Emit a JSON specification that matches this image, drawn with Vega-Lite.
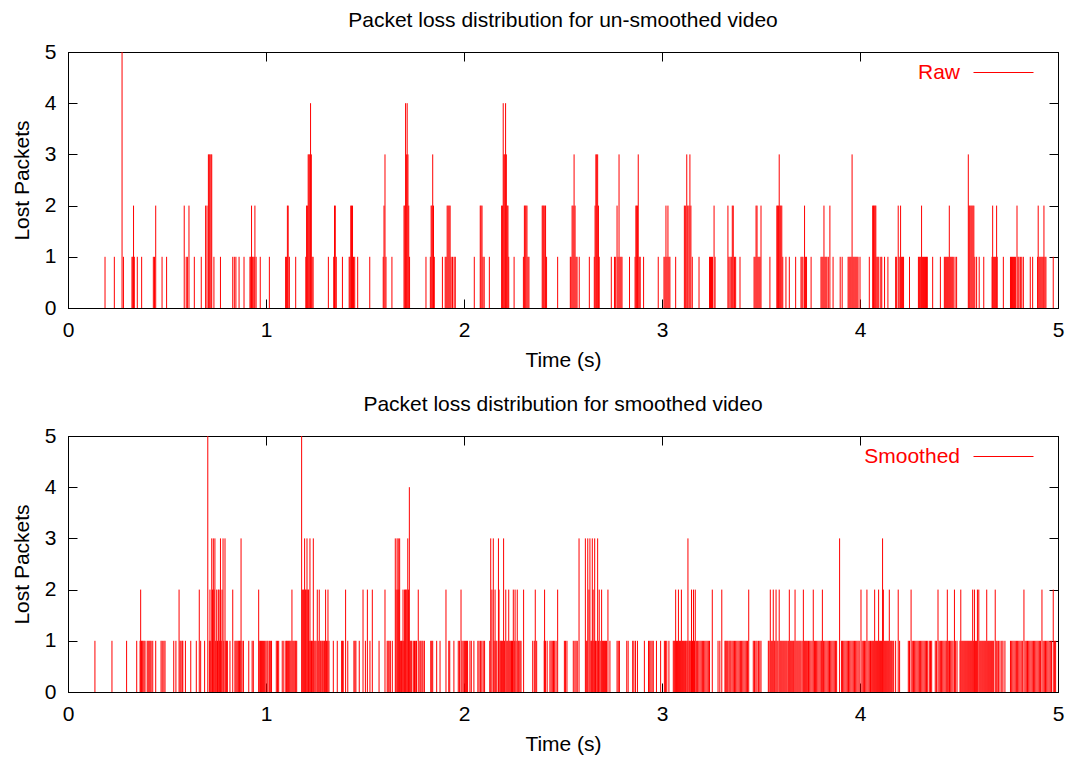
{
"$schema":"https://vega.github.io/schema/vega-lite/v6.json",
"background":"white",
"padding":{"left":10,"top":9,"right":0,"bottom":5},
"config":{"font":"Liberation Sans","view":{"stroke":"black","strokeWidth":1},
"axis":{"grid":false,"domainColor":"black","tickColor":"black","labelColor":"black","titleColor":"black","labelFontSize":21,"titleFontSize":21,"titleFontWeight":"normal","labelFont":"Liberation Sans","titleFont":"Liberation Sans","tickSize":-9,"labelFlush":false},
"title":{"fontSize":21,"fontWeight":"normal","font":"Liberation Sans","color":"black","offset":10}},
"datasets":{
"raw":[{"t":0.187,"v":1},{"t":0.234,"v":1},{"t":0.273,"v":5},{"t":0.28,"v":1},{"t":0.323,"v":1},{"t":0.327,"v":1},{"t":0.331,"v":2},{"t":0.335,"v":1},{"t":0.35,"v":1},{"t":0.372,"v":1},{"t":0.431,"v":1},{"t":0.437,"v":1},{"t":0.443,"v":2},{"t":0.475,"v":1},{"t":0.498,"v":1},{"t":0.587,"v":2},{"t":0.597,"v":1},{"t":0.603,"v":1},{"t":0.611,"v":2},{"t":0.638,"v":1},{"t":0.673,"v":1},{"t":0.695,"v":2},{"t":0.702,"v":2},{"t":0.709,"v":3},{"t":0.713,"v":3},{"t":0.717,"v":3},{"t":0.722,"v":3},{"t":0.726,"v":3},{"t":0.737,"v":1},{"t":0.77,"v":1},{"t":0.832,"v":1},{"t":0.84,"v":1},{"t":0.848,"v":1},{"t":0.864,"v":1},{"t":0.889,"v":1},{"t":0.919,"v":1},{"t":0.923,"v":1},{"t":0.927,"v":2},{"t":0.931,"v":1},{"t":0.935,"v":1},{"t":0.94,"v":1},{"t":0.944,"v":2},{"t":0.95,"v":1},{"t":0.971,"v":1},{"t":1.017,"v":1},{"t":1.099,"v":1},{"t":1.104,"v":1},{"t":1.108,"v":2},{"t":1.112,"v":2},{"t":1.118,"v":1},{"t":1.15,"v":1},{"t":1.201,"v":1},{"t":1.205,"v":2},{"t":1.209,"v":2},{"t":1.213,"v":3},{"t":1.217,"v":3},{"t":1.221,"v":3},{"t":1.225,"v":4},{"t":1.229,"v":3},{"t":1.233,"v":1},{"t":1.238,"v":1},{"t":1.315,"v":1},{"t":1.342,"v":1},{"t":1.346,"v":2},{"t":1.35,"v":2},{"t":1.355,"v":1},{"t":1.386,"v":1},{"t":1.42,"v":1},{"t":1.424,"v":1},{"t":1.428,"v":2},{"t":1.432,"v":2},{"t":1.437,"v":2},{"t":1.442,"v":1},{"t":1.448,"v":1},{"t":1.463,"v":1},{"t":1.524,"v":1},{"t":1.592,"v":1},{"t":1.596,"v":2},{"t":1.601,"v":3},{"t":1.606,"v":1},{"t":1.636,"v":1},{"t":1.697,"v":2},{"t":1.701,"v":2},{"t":1.705,"v":4},{"t":1.709,"v":3},{"t":1.713,"v":4},{"t":1.717,"v":3},{"t":1.721,"v":2},{"t":1.725,"v":1},{"t":1.808,"v":1},{"t":1.83,"v":1},{"t":1.834,"v":2},{"t":1.838,"v":2},{"t":1.842,"v":3},{"t":1.846,"v":2},{"t":1.85,"v":1},{"t":1.891,"v":1},{"t":1.905,"v":1},{"t":1.91,"v":1},{"t":1.915,"v":2},{"t":1.92,"v":2},{"t":1.925,"v":2},{"t":1.93,"v":2},{"t":1.935,"v":1},{"t":1.942,"v":1},{"t":1.95,"v":1},{"t":1.956,"v":1},{"t":2.052,"v":1},{"t":2.082,"v":2},{"t":2.086,"v":2},{"t":2.091,"v":2},{"t":2.096,"v":1},{"t":2.102,"v":1},{"t":2.128,"v":1},{"t":2.19,"v":2},{"t":2.194,"v":2},{"t":2.198,"v":4},{"t":2.202,"v":3},{"t":2.206,"v":3},{"t":2.21,"v":4},{"t":2.214,"v":3},{"t":2.218,"v":2},{"t":2.222,"v":2},{"t":2.226,"v":1},{"t":2.253,"v":1},{"t":2.3,"v":1},{"t":2.305,"v":2},{"t":2.309,"v":2},{"t":2.313,"v":2},{"t":2.318,"v":2},{"t":2.323,"v":1},{"t":2.328,"v":1},{"t":2.395,"v":2},{"t":2.399,"v":2},{"t":2.403,"v":2},{"t":2.408,"v":2},{"t":2.412,"v":2},{"t":2.417,"v":1},{"t":2.473,"v":1},{"t":2.537,"v":1},{"t":2.541,"v":1},{"t":2.546,"v":2},{"t":2.551,"v":2},{"t":2.556,"v":3},{"t":2.561,"v":2},{"t":2.566,"v":1},{"t":2.571,"v":1},{"t":2.582,"v":1},{"t":2.633,"v":1},{"t":2.658,"v":1},{"t":2.662,"v":2},{"t":2.666,"v":3},{"t":2.67,"v":3},{"t":2.675,"v":3},{"t":2.679,"v":2},{"t":2.683,"v":1},{"t":2.744,"v":1},{"t":2.76,"v":1},{"t":2.766,"v":1},{"t":2.773,"v":2},{"t":2.778,"v":1},{"t":2.783,"v":3},{"t":2.788,"v":1},{"t":2.793,"v":1},{"t":2.798,"v":1},{"t":2.836,"v":1},{"t":2.864,"v":1},{"t":2.868,"v":2},{"t":2.872,"v":2},{"t":2.876,"v":2},{"t":2.88,"v":3},{"t":2.885,"v":1},{"t":2.89,"v":1},{"t":2.907,"v":1},{"t":2.981,"v":1},{"t":3.01,"v":1},{"t":3.015,"v":1},{"t":3.02,"v":2},{"t":3.025,"v":1},{"t":3.03,"v":2},{"t":3.035,"v":1},{"t":3.04,"v":1},{"t":3.069,"v":1},{"t":3.113,"v":2},{"t":3.118,"v":2},{"t":3.125,"v":3},{"t":3.13,"v":2},{"t":3.136,"v":2},{"t":3.141,"v":3},{"t":3.146,"v":2},{"t":3.153,"v":1},{"t":3.187,"v":1},{"t":3.24,"v":1},{"t":3.245,"v":1},{"t":3.25,"v":1},{"t":3.255,"v":1},{"t":3.263,"v":2},{"t":3.268,"v":1},{"t":3.333,"v":2},{"t":3.338,"v":1},{"t":3.344,"v":1},{"t":3.35,"v":1},{"t":3.355,"v":2},{"t":3.36,"v":2},{"t":3.366,"v":1},{"t":3.372,"v":1},{"t":3.394,"v":1},{"t":3.465,"v":1},{"t":3.47,"v":1},{"t":3.475,"v":2},{"t":3.48,"v":2},{"t":3.485,"v":1},{"t":3.49,"v":1},{"t":3.495,"v":1},{"t":3.5,"v":2},{"t":3.545,"v":1},{"t":3.58,"v":2},{"t":3.584,"v":2},{"t":3.588,"v":2},{"t":3.592,"v":3},{"t":3.596,"v":2},{"t":3.6,"v":2},{"t":3.605,"v":2},{"t":3.61,"v":1},{"t":3.626,"v":1},{"t":3.643,"v":1},{"t":3.675,"v":1},{"t":3.702,"v":1},{"t":3.707,"v":1},{"t":3.712,"v":1},{"t":3.72,"v":2},{"t":3.725,"v":1},{"t":3.73,"v":1},{"t":3.753,"v":1},{"t":3.803,"v":1},{"t":3.808,"v":1},{"t":3.813,"v":1},{"t":3.818,"v":2},{"t":3.823,"v":1},{"t":3.828,"v":1},{"t":3.833,"v":1},{"t":3.84,"v":1},{"t":3.848,"v":2},{"t":3.864,"v":1},{"t":3.9,"v":1},{"t":3.91,"v":1},{"t":3.94,"v":1},{"t":3.945,"v":1},{"t":3.95,"v":1},{"t":3.955,"v":1},{"t":3.96,"v":3},{"t":3.965,"v":1},{"t":3.97,"v":1},{"t":3.975,"v":1},{"t":3.98,"v":1},{"t":3.985,"v":1},{"t":3.99,"v":1},{"t":4.0,"v":1},{"t":4.047,"v":1},{"t":4.064,"v":2},{"t":4.068,"v":2},{"t":4.072,"v":2},{"t":4.076,"v":2},{"t":4.08,"v":2},{"t":4.085,"v":1},{"t":4.09,"v":1},{"t":4.095,"v":1},{"t":4.105,"v":1},{"t":4.11,"v":1},{"t":4.124,"v":1},{"t":4.141,"v":1},{"t":4.18,"v":1},{"t":4.185,"v":1},{"t":4.193,"v":2},{"t":4.198,"v":1},{"t":4.205,"v":2},{"t":4.21,"v":1},{"t":4.215,"v":1},{"t":4.22,"v":1},{"t":4.25,"v":1},{"t":4.295,"v":1},{"t":4.3,"v":1},{"t":4.305,"v":1},{"t":4.311,"v":2},{"t":4.316,"v":1},{"t":4.321,"v":1},{"t":4.326,"v":1},{"t":4.331,"v":1},{"t":4.336,"v":1},{"t":4.34,"v":1},{"t":4.367,"v":1},{"t":4.406,"v":1},{"t":4.426,"v":1},{"t":4.431,"v":1},{"t":4.436,"v":1},{"t":4.441,"v":1},{"t":4.446,"v":1},{"t":4.451,"v":2},{"t":4.456,"v":1},{"t":4.461,"v":1},{"t":4.466,"v":1},{"t":4.471,"v":1},{"t":4.48,"v":1},{"t":4.488,"v":1},{"t":4.547,"v":3},{"t":4.551,"v":2},{"t":4.555,"v":2},{"t":4.56,"v":2},{"t":4.565,"v":2},{"t":4.57,"v":2},{"t":4.575,"v":2},{"t":4.58,"v":1},{"t":4.589,"v":1},{"t":4.602,"v":1},{"t":4.625,"v":1},{"t":4.667,"v":1},{"t":4.67,"v":2},{"t":4.675,"v":1},{"t":4.68,"v":1},{"t":4.685,"v":1},{"t":4.69,"v":2},{"t":4.693,"v":1},{"t":4.724,"v":1},{"t":4.76,"v":1},{"t":4.765,"v":1},{"t":4.77,"v":1},{"t":4.775,"v":1},{"t":4.78,"v":1},{"t":4.785,"v":1},{"t":4.793,"v":2},{"t":4.798,"v":1},{"t":4.803,"v":1},{"t":4.81,"v":1},{"t":4.817,"v":1},{"t":4.825,"v":1},{"t":4.86,"v":1},{"t":4.872,"v":1},{"t":4.897,"v":1},{"t":4.9,"v":2},{"t":4.905,"v":1},{"t":4.91,"v":1},{"t":4.915,"v":1},{"t":4.92,"v":1},{"t":4.925,"v":1},{"t":4.929,"v":2},{"t":4.934,"v":1},{"t":4.939,"v":1},{"t":4.976,"v":1}],
"smoothed":[{"t":0.136,"v":1},{"t":0.222,"v":1},{"t":0.296,"v":1},{"t":0.347,"v":1},{"t":0.364,"v":1},{"t":0.367,"v":2},{"t":0.371,"v":1},{"t":0.375,"v":1},{"t":0.379,"v":1},{"t":0.384,"v":1},{"t":0.389,"v":1},{"t":0.4,"v":1},{"t":0.405,"v":1},{"t":0.41,"v":1},{"t":0.415,"v":1},{"t":0.42,"v":1},{"t":0.428,"v":1},{"t":0.443,"v":1},{"t":0.47,"v":1},{"t":0.476,"v":1},{"t":0.484,"v":1},{"t":0.49,"v":1},{"t":0.534,"v":1},{"t":0.545,"v":1},{"t":0.561,"v":2},{"t":0.566,"v":1},{"t":0.571,"v":1},{"t":0.577,"v":1},{"t":0.58,"v":1},{"t":0.593,"v":1},{"t":0.62,"v":1},{"t":0.648,"v":1},{"t":0.663,"v":2},{"t":0.67,"v":1},{"t":0.69,"v":1},{"t":0.706,"v":5},{"t":0.714,"v":1},{"t":0.717,"v":2},{"t":0.721,"v":1},{"t":0.726,"v":3},{"t":0.73,"v":2},{"t":0.734,"v":3},{"t":0.738,"v":2},{"t":0.742,"v":3},{"t":0.746,"v":1},{"t":0.751,"v":2},{"t":0.755,"v":1},{"t":0.759,"v":2},{"t":0.763,"v":2},{"t":0.766,"v":1},{"t":0.77,"v":3},{"t":0.774,"v":1},{"t":0.778,"v":2},{"t":0.783,"v":3},{"t":0.787,"v":1},{"t":0.793,"v":3},{"t":0.797,"v":1},{"t":0.801,"v":1},{"t":0.805,"v":1},{"t":0.818,"v":1},{"t":0.832,"v":2},{"t":0.843,"v":1},{"t":0.848,"v":1},{"t":0.853,"v":1},{"t":0.858,"v":1},{"t":0.862,"v":1},{"t":0.866,"v":1},{"t":0.87,"v":1},{"t":0.874,"v":3},{"t":0.879,"v":1},{"t":0.886,"v":1},{"t":0.913,"v":1},{"t":0.93,"v":1},{"t":0.936,"v":1},{"t":0.963,"v":2},{"t":0.966,"v":1},{"t":0.972,"v":1},{"t":0.977,"v":1},{"t":0.982,"v":1},{"t":0.987,"v":1},{"t":0.993,"v":1},{"t":0.999,"v":1},{"t":1.005,"v":1},{"t":1.01,"v":1},{"t":1.017,"v":1},{"t":1.022,"v":1},{"t":1.028,"v":1},{"t":1.052,"v":1},{"t":1.058,"v":1},{"t":1.064,"v":1},{"t":1.082,"v":1},{"t":1.09,"v":1},{"t":1.1,"v":1},{"t":1.104,"v":1},{"t":1.108,"v":1},{"t":1.113,"v":1},{"t":1.117,"v":1},{"t":1.121,"v":1},{"t":1.126,"v":1},{"t":1.131,"v":2},{"t":1.136,"v":1},{"t":1.141,"v":1},{"t":1.146,"v":1},{"t":1.15,"v":1},{"t":1.155,"v":1},{"t":1.18,"v":5},{"t":1.185,"v":2},{"t":1.19,"v":2},{"t":1.195,"v":3},{"t":1.199,"v":2},{"t":1.203,"v":2},{"t":1.207,"v":3},{"t":1.211,"v":2},{"t":1.215,"v":2},{"t":1.218,"v":1},{"t":1.222,"v":3},{"t":1.226,"v":1},{"t":1.23,"v":1},{"t":1.234,"v":1},{"t":1.239,"v":3},{"t":1.243,"v":1},{"t":1.248,"v":1},{"t":1.253,"v":1},{"t":1.259,"v":2},{"t":1.264,"v":1},{"t":1.269,"v":2},{"t":1.274,"v":1},{"t":1.278,"v":1},{"t":1.283,"v":1},{"t":1.287,"v":1},{"t":1.292,"v":1},{"t":1.296,"v":1},{"t":1.301,"v":2},{"t":1.306,"v":1},{"t":1.309,"v":1},{"t":1.313,"v":2},{"t":1.318,"v":1},{"t":1.34,"v":1},{"t":1.36,"v":1},{"t":1.382,"v":1},{"t":1.386,"v":1},{"t":1.39,"v":1},{"t":1.402,"v":2},{"t":1.413,"v":1},{"t":1.444,"v":1},{"t":1.449,"v":1},{"t":1.454,"v":1},{"t":1.471,"v":1},{"t":1.49,"v":2},{"t":1.502,"v":1},{"t":1.512,"v":2},{"t":1.525,"v":1},{"t":1.537,"v":2},{"t":1.571,"v":1},{"t":1.601,"v":2},{"t":1.612,"v":1},{"t":1.617,"v":1},{"t":1.622,"v":1},{"t":1.628,"v":1},{"t":1.638,"v":1},{"t":1.653,"v":3},{"t":1.657,"v":2},{"t":1.662,"v":3},{"t":1.666,"v":2},{"t":1.668,"v":3},{"t":1.672,"v":2},{"t":1.675,"v":3},{"t":1.68,"v":1},{"t":1.684,"v":1},{"t":1.688,"v":1},{"t":1.692,"v":2},{"t":1.696,"v":1},{"t":1.7,"v":2},{"t":1.704,"v":2},{"t":1.708,"v":2},{"t":1.712,"v":2},{"t":1.716,"v":3},{"t":1.72,"v":2},{"t":1.724,"v":4},{"t":1.728,"v":1},{"t":1.732,"v":1},{"t":1.736,"v":1},{"t":1.744,"v":1},{"t":1.75,"v":1},{"t":1.756,"v":1},{"t":1.76,"v":1},{"t":1.769,"v":2},{"t":1.777,"v":1},{"t":1.782,"v":1},{"t":1.788,"v":1},{"t":1.793,"v":1},{"t":1.8,"v":1},{"t":1.832,"v":1},{"t":1.837,"v":1},{"t":1.842,"v":1},{"t":1.862,"v":1},{"t":1.879,"v":1},{"t":1.909,"v":2},{"t":1.923,"v":1},{"t":1.928,"v":1},{"t":1.949,"v":1},{"t":1.971,"v":1},{"t":1.977,"v":1},{"t":1.985,"v":2},{"t":1.99,"v":1},{"t":1.996,"v":1},{"t":2.002,"v":1},{"t":2.008,"v":1},{"t":2.013,"v":1},{"t":2.018,"v":1},{"t":2.03,"v":1},{"t":2.037,"v":1},{"t":2.05,"v":1},{"t":2.07,"v":1},{"t":2.076,"v":1},{"t":2.083,"v":1},{"t":2.09,"v":1},{"t":2.097,"v":1},{"t":2.104,"v":1},{"t":2.13,"v":1},{"t":2.135,"v":3},{"t":2.141,"v":2},{"t":2.148,"v":3},{"t":2.152,"v":1},{"t":2.157,"v":2},{"t":2.161,"v":1},{"t":2.166,"v":1},{"t":2.174,"v":3},{"t":2.177,"v":2},{"t":2.182,"v":1},{"t":2.186,"v":1},{"t":2.19,"v":1},{"t":2.195,"v":1},{"t":2.2,"v":3},{"t":2.205,"v":1},{"t":2.211,"v":2},{"t":2.216,"v":1},{"t":2.221,"v":1},{"t":2.226,"v":2},{"t":2.231,"v":1},{"t":2.236,"v":1},{"t":2.24,"v":1},{"t":2.245,"v":1},{"t":2.249,"v":2},{"t":2.254,"v":1},{"t":2.258,"v":2},{"t":2.263,"v":1},{"t":2.269,"v":2},{"t":2.274,"v":1},{"t":2.278,"v":1},{"t":2.283,"v":1},{"t":2.288,"v":1},{"t":2.301,"v":2},{"t":2.347,"v":1},{"t":2.355,"v":1},{"t":2.36,"v":2},{"t":2.367,"v":1},{"t":2.405,"v":1},{"t":2.407,"v":2},{"t":2.412,"v":1},{"t":2.42,"v":1},{"t":2.434,"v":1},{"t":2.44,"v":1},{"t":2.446,"v":1},{"t":2.452,"v":1},{"t":2.458,"v":1},{"t":2.465,"v":1},{"t":2.473,"v":2},{"t":2.507,"v":1},{"t":2.513,"v":1},{"t":2.52,"v":1},{"t":2.552,"v":1},{"t":2.56,"v":1},{"t":2.566,"v":1},{"t":2.572,"v":1},{"t":2.581,"v":3},{"t":2.613,"v":3},{"t":2.617,"v":1},{"t":2.621,"v":1},{"t":2.625,"v":3},{"t":2.631,"v":2},{"t":2.636,"v":3},{"t":2.641,"v":1},{"t":2.645,"v":1},{"t":2.648,"v":3},{"t":2.652,"v":2},{"t":2.656,"v":1},{"t":2.66,"v":3},{"t":2.664,"v":1},{"t":2.668,"v":1},{"t":2.675,"v":3},{"t":2.679,"v":1},{"t":2.683,"v":2},{"t":2.688,"v":1},{"t":2.695,"v":2},{"t":2.7,"v":1},{"t":2.705,"v":1},{"t":2.71,"v":1},{"t":2.715,"v":1},{"t":2.72,"v":1},{"t":2.727,"v":2},{"t":2.737,"v":1},{"t":2.773,"v":1},{"t":2.779,"v":1},{"t":2.785,"v":1},{"t":2.822,"v":1},{"t":2.829,"v":1},{"t":2.852,"v":1},{"t":2.858,"v":1},{"t":2.866,"v":1},{"t":2.876,"v":1},{"t":2.911,"v":1},{"t":2.932,"v":1},{"t":2.938,"v":1},{"t":2.944,"v":1},{"t":2.95,"v":1},{"t":2.956,"v":1},{"t":2.972,"v":1},{"t":2.993,"v":1},{"t":3.012,"v":1},{"t":3.018,"v":1},{"t":3.024,"v":1},{"t":3.035,"v":1},{"t":3.057,"v":1},{"t":3.062,"v":1},{"t":3.066,"v":1},{"t":3.069,"v":2},{"t":3.073,"v":1},{"t":3.078,"v":1},{"t":3.083,"v":2},{"t":3.088,"v":1},{"t":3.093,"v":1},{"t":3.098,"v":2},{"t":3.103,"v":1},{"t":3.108,"v":1},{"t":3.113,"v":1},{"t":3.118,"v":1},{"t":3.122,"v":1},{"t":3.127,"v":1},{"t":3.131,"v":3},{"t":3.136,"v":1},{"t":3.14,"v":1},{"t":3.145,"v":1},{"t":3.149,"v":2},{"t":3.154,"v":1},{"t":3.159,"v":2},{"t":3.164,"v":1},{"t":3.168,"v":2},{"t":3.175,"v":1},{"t":3.18,"v":1},{"t":3.186,"v":1},{"t":3.192,"v":1},{"t":3.198,"v":1},{"t":3.204,"v":1},{"t":3.21,"v":1},{"t":3.216,"v":1},{"t":3.222,"v":1},{"t":3.228,"v":1},{"t":3.234,"v":1},{"t":3.24,"v":1},{"t":3.254,"v":2},{"t":3.283,"v":1},{"t":3.292,"v":1},{"t":3.302,"v":2},{"t":3.318,"v":1},{"t":3.322,"v":1},{"t":3.327,"v":1},{"t":3.332,"v":1},{"t":3.338,"v":1},{"t":3.343,"v":1},{"t":3.348,"v":1},{"t":3.354,"v":1},{"t":3.36,"v":1},{"t":3.366,"v":1},{"t":3.372,"v":1},{"t":3.378,"v":1},{"t":3.384,"v":1},{"t":3.39,"v":1},{"t":3.396,"v":1},{"t":3.402,"v":1},{"t":3.408,"v":1},{"t":3.414,"v":1},{"t":3.42,"v":1},{"t":3.426,"v":1},{"t":3.432,"v":1},{"t":3.438,"v":2},{"t":3.461,"v":1},{"t":3.467,"v":1},{"t":3.474,"v":1},{"t":3.48,"v":1},{"t":3.487,"v":1},{"t":3.494,"v":1},{"t":3.5,"v":1},{"t":3.537,"v":1},{"t":3.541,"v":1},{"t":3.547,"v":2},{"t":3.552,"v":1},{"t":3.557,"v":1},{"t":3.562,"v":2},{"t":3.567,"v":1},{"t":3.571,"v":1},{"t":3.576,"v":2},{"t":3.581,"v":1},{"t":3.586,"v":1},{"t":3.592,"v":2},{"t":3.597,"v":1},{"t":3.602,"v":1},{"t":3.607,"v":1},{"t":3.612,"v":1},{"t":3.617,"v":1},{"t":3.622,"v":1},{"t":3.627,"v":1},{"t":3.632,"v":1},{"t":3.638,"v":1},{"t":3.643,"v":2},{"t":3.648,"v":1},{"t":3.653,"v":1},{"t":3.658,"v":1},{"t":3.663,"v":1},{"t":3.667,"v":1},{"t":3.672,"v":2},{"t":3.677,"v":1},{"t":3.682,"v":1},{"t":3.687,"v":1},{"t":3.692,"v":1},{"t":3.697,"v":1},{"t":3.702,"v":1},{"t":3.708,"v":1},{"t":3.714,"v":2},{"t":3.719,"v":1},{"t":3.724,"v":1},{"t":3.729,"v":1},{"t":3.734,"v":1},{"t":3.74,"v":1},{"t":3.746,"v":1},{"t":3.752,"v":1},{"t":3.758,"v":1},{"t":3.764,"v":2},{"t":3.77,"v":1},{"t":3.775,"v":1},{"t":3.781,"v":1},{"t":3.787,"v":1},{"t":3.793,"v":1},{"t":3.799,"v":1},{"t":3.805,"v":1},{"t":3.81,"v":2},{"t":3.816,"v":1},{"t":3.822,"v":1},{"t":3.828,"v":1},{"t":3.834,"v":1},{"t":3.84,"v":1},{"t":3.846,"v":1},{"t":3.852,"v":1},{"t":3.858,"v":1},{"t":3.864,"v":1},{"t":3.87,"v":1},{"t":3.876,"v":1},{"t":3.882,"v":1},{"t":3.897,"v":3},{"t":3.907,"v":1},{"t":3.912,"v":1},{"t":3.918,"v":1},{"t":3.924,"v":1},{"t":3.93,"v":1},{"t":3.936,"v":1},{"t":3.942,"v":1},{"t":3.948,"v":1},{"t":3.954,"v":1},{"t":3.96,"v":1},{"t":3.966,"v":1},{"t":3.972,"v":1},{"t":3.978,"v":1},{"t":3.984,"v":1},{"t":3.99,"v":1},{"t":3.996,"v":1},{"t":4.005,"v":2},{"t":4.011,"v":1},{"t":4.017,"v":1},{"t":4.023,"v":1},{"t":4.029,"v":1},{"t":4.035,"v":2},{"t":4.041,"v":1},{"t":4.047,"v":1},{"t":4.053,"v":1},{"t":4.059,"v":1},{"t":4.064,"v":1},{"t":4.069,"v":1},{"t":4.074,"v":2},{"t":4.079,"v":1},{"t":4.084,"v":1},{"t":4.089,"v":1},{"t":4.094,"v":2},{"t":4.099,"v":1},{"t":4.104,"v":1},{"t":4.109,"v":1},{"t":4.114,"v":3},{"t":4.118,"v":2},{"t":4.123,"v":1},{"t":4.128,"v":1},{"t":4.133,"v":1},{"t":4.138,"v":1},{"t":4.143,"v":1},{"t":4.148,"v":2},{"t":4.153,"v":1},{"t":4.158,"v":1},{"t":4.163,"v":1},{"t":4.17,"v":1},{"t":4.18,"v":1},{"t":4.193,"v":2},{"t":4.2,"v":1},{"t":4.244,"v":1},{"t":4.25,"v":1},{"t":4.258,"v":2},{"t":4.264,"v":1},{"t":4.27,"v":1},{"t":4.276,"v":1},{"t":4.282,"v":1},{"t":4.288,"v":1},{"t":4.294,"v":1},{"t":4.3,"v":1},{"t":4.306,"v":1},{"t":4.312,"v":1},{"t":4.318,"v":1},{"t":4.324,"v":1},{"t":4.33,"v":1},{"t":4.336,"v":1},{"t":4.342,"v":1},{"t":4.35,"v":1},{"t":4.356,"v":1},{"t":4.362,"v":1},{"t":4.38,"v":1},{"t":4.386,"v":1},{"t":4.394,"v":2},{"t":4.4,"v":1},{"t":4.406,"v":1},{"t":4.412,"v":1},{"t":4.418,"v":1},{"t":4.424,"v":1},{"t":4.43,"v":1},{"t":4.436,"v":1},{"t":4.441,"v":2},{"t":4.446,"v":1},{"t":4.452,"v":1},{"t":4.458,"v":1},{"t":4.464,"v":1},{"t":4.47,"v":1},{"t":4.477,"v":2},{"t":4.483,"v":1},{"t":4.49,"v":1},{"t":4.505,"v":1},{"t":4.509,"v":2},{"t":4.514,"v":1},{"t":4.519,"v":1},{"t":4.524,"v":1},{"t":4.529,"v":1},{"t":4.534,"v":1},{"t":4.539,"v":1},{"t":4.544,"v":1},{"t":4.549,"v":1},{"t":4.554,"v":1},{"t":4.559,"v":1},{"t":4.564,"v":1},{"t":4.569,"v":2},{"t":4.574,"v":1},{"t":4.578,"v":2},{"t":4.583,"v":1},{"t":4.588,"v":1},{"t":4.593,"v":2},{"t":4.6,"v":2},{"t":4.605,"v":1},{"t":4.61,"v":1},{"t":4.615,"v":1},{"t":4.62,"v":1},{"t":4.625,"v":1},{"t":4.63,"v":1},{"t":4.635,"v":1},{"t":4.64,"v":2},{"t":4.645,"v":1},{"t":4.65,"v":1},{"t":4.655,"v":1},{"t":4.66,"v":1},{"t":4.665,"v":1},{"t":4.67,"v":1},{"t":4.675,"v":1},{"t":4.683,"v":2},{"t":4.688,"v":1},{"t":4.693,"v":1},{"t":4.7,"v":1},{"t":4.707,"v":1},{"t":4.716,"v":1},{"t":4.722,"v":1},{"t":4.732,"v":1},{"t":4.76,"v":1},{"t":4.766,"v":1},{"t":4.772,"v":1},{"t":4.778,"v":1},{"t":4.784,"v":1},{"t":4.79,"v":1},{"t":4.796,"v":1},{"t":4.802,"v":1},{"t":4.808,"v":1},{"t":4.814,"v":1},{"t":4.82,"v":1},{"t":4.828,"v":2},{"t":4.834,"v":1},{"t":4.84,"v":1},{"t":4.846,"v":1},{"t":4.852,"v":1},{"t":4.858,"v":1},{"t":4.864,"v":1},{"t":4.87,"v":1},{"t":4.876,"v":1},{"t":4.882,"v":1},{"t":4.888,"v":1},{"t":4.894,"v":1},{"t":4.9,"v":1},{"t":4.906,"v":1},{"t":4.912,"v":1},{"t":4.919,"v":2},{"t":4.925,"v":1},{"t":4.931,"v":1},{"t":4.937,"v":1},{"t":4.943,"v":1},{"t":4.949,"v":1},{"t":4.955,"v":1},{"t":4.961,"v":1},{"t":4.967,"v":1},{"t":4.976,"v":2},{"t":4.982,"v":1},{"t":4.988,"v":1}]
},
"vconcat":[
{"title":"Packet loss distribution for un-smoothed video","width":990,"height":256,"data":{"name":"raw"},
"layer":[
{"mark":{"type":"rule","strokeWidth":1},
"encoding":{"x":{"field":"t","type":"quantitative","scale":{"domain":[0,5],"nice":false},"axis":{"title":"Time (s)","values":[0,1,2,3,4,5],"labelPadding":20,"titlePadding":9}},
"y":{"field":"v","type":"quantitative","scale":{"domain":[0,5],"nice":false},"axis":{"title":"Lost Packets","values":[0,1,2,3,4,5],"labelPadding":21,"titlePadding":12}},
"y2":{"datum":0},
"color":{"datum":"Raw","type":"nominal","scale":{"domain":["Raw"],"range":["#ff0000"]},"legend":{"title":null,"orient":"none","legendX":905,"legendY":-10,"symbolType":"stroke","symbolSize":3600,"symbolStrokeWidth":1,"symbolStrokeColor":"#ff0000","labelColor":"#ff0000","labelFontSize":21,"labelAlign":"right","labelOffset":-74,"padding":0}}}},
{"mark":{"type":"rule","opacity":0},
"encoding":{"x":{"field":"t","type":"quantitative","axis":{"orient":"top","labels":false,"title":null,"values":[0,1,2,3,4,5]}},
"y":{"field":"v","type":"quantitative","axis":{"orient":"right","labels":false,"title":null,"values":[0,1,2,3,4,5]}}}}
],
"resolve":{"axis":{"x":"independent","y":"independent"}}},
{"title":"Packet loss distribution for smoothed video","width":990,"height":256,"data":{"name":"smoothed"},
"layer":[
{"mark":{"type":"rule","strokeWidth":1},
"encoding":{"x":{"field":"t","type":"quantitative","scale":{"domain":[0,5],"nice":false},"axis":{"title":"Time (s)","values":[0,1,2,3,4,5],"labelPadding":20,"titlePadding":9}},
"y":{"field":"v","type":"quantitative","scale":{"domain":[0,5],"nice":false},"axis":{"title":"Lost Packets","values":[0,1,2,3,4,5],"labelPadding":21,"titlePadding":12}},
"y2":{"datum":0},
"color":{"datum":"Smoothed","type":"nominal","scale":{"domain":["Smoothed"],"range":["#ff0000"]},"legend":{"title":null,"orient":"none","legendX":905,"legendY":-10,"symbolType":"stroke","symbolSize":3600,"symbolStrokeWidth":1,"symbolStrokeColor":"#ff0000","labelColor":"#ff0000","labelFontSize":21,"labelAlign":"right","labelOffset":-74,"padding":0}}}},
{"mark":{"type":"rule","opacity":0},
"encoding":{"x":{"field":"t","type":"quantitative","axis":{"orient":"top","labels":false,"title":null,"values":[0,1,2,3,4,5]}},
"y":{"field":"v","type":"quantitative","axis":{"orient":"right","labels":false,"title":null,"values":[0,1,2,3,4,5]}}}}
],
"resolve":{"axis":{"x":"independent","y":"independent"}}}
],
"spacing":22,
"resolve":{"scale":{"color":"independent"},"legend":{"color":"independent"}}
}
